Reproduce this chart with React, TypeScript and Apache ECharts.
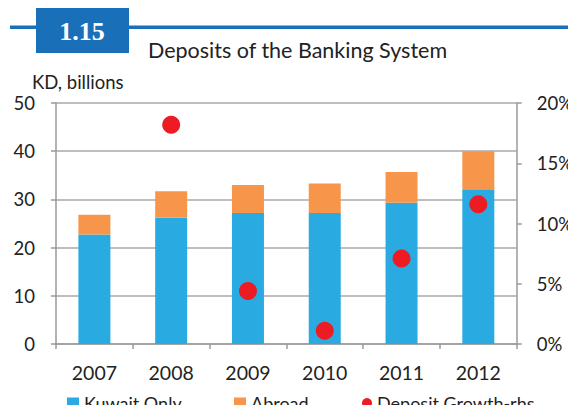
import React, { useEffect, useRef } from "react";
import * as echarts from "echarts";

const years = ["2007", "2008", "2009", "2010", "2011", "2012"];
const kuwaitOnly = [22.7, 26.2, 27.2, 27.2, 29.3, 32.1];
const abroad = [4.1, 5.5, 5.8, 6.1, 6.4, 7.9];
const depositGrowth: (number | null)[] = [null, 18.2, 4.4, 1.1, 7.1, 11.6];
const leftTicks = [0, 10, 20, 30, 40, 50];
const rightTicks = [0, 5, 10, 15, 20];

const FONT = "Lato, 'Open Sans', sans-serif";

export default function App() {
  const ref = useRef<HTMLDivElement>(null);
  useEffect(() => {
    if (!ref.current) return;
    const chart = echarts.init(ref.current, undefined, { renderer: "svg" });
    const axisGray = "#9a9a9a";
    const legendText = { fontSize: 18, lineHeight: 18, color: "#222", fontFamily: FONT };
    chart.setOption({
      animation: false,
      backgroundColor: "#ffffff",
      textStyle: { fontFamily: FONT },
      grid: { left: 56, right: 51, top: 103, bottom: 69, containLabel: false },
      graphic: [
        { type: "rect", shape: { x: 10, y: 25.5, width: 566, height: 3.5 }, style: { fill: "#1a70b8" } },
        { type: "rect", shape: { x: 36, y: 6, width: 93, height: 47 }, style: { fill: "#1a70b8" } },
        {
          type: "text", x: 82, y: 31,
          style: { text: "1.15", fill: "#ffffff", font: "bold 26px 'Liberation Serif', 'DejaVu Serif', serif", textAlign: "center", textVerticalAlign: "middle" },
        },
        {
          type: "text", x: 148, y: 50,
          style: { text: "Deposits of the Banking System", fill: "#222", font: `21.5px ${FONT}`, textAlign: "left", textVerticalAlign: "middle" },
        },
        {
          type: "text", x: 32, y: 82,
          style: { text: "KD, billions", fill: "#222", font: `18.5px ${FONT}`, textAlign: "left", textVerticalAlign: "middle" },
        },
      ],
      legend: [
        {
          left: 67, top: 394, padding: 0, itemWidth: 12, itemHeight: 11, icon: "rect", itemGap: 0,
          textStyle: legendText, data: ["Kuwait Only"], selectedMode: false,
        },
        {
          left: 234, top: 394, padding: 0, itemWidth: 12, itemHeight: 11, icon: "rect", itemGap: 0,
          textStyle: legendText, data: ["Abroad"], selectedMode: false,
        },
        {
          left: 362, top: 394, padding: 0, itemWidth: 10, itemHeight: 10, icon: "circle", itemGap: 0,
          textStyle: legendText, data: ["Deposit Growth-rhs"], selectedMode: false,
        },
      ],
      xAxis: {
        type: "category",
        data: years,
        axisLine: { lineStyle: { color: axisGray, width: 1.5 } },
        axisTick: { show: true, length: 5, lineStyle: { color: axisGray, width: 1.5 } },
        axisLabel: { fontSize: 19.5, color: "#222", margin: 18, fontFamily: FONT },
      },
      yAxis: [
        {
          type: "value", min: 0, max: 50, interval: 10,
          axisLine: { show: true, lineStyle: { color: axisGray, width: 1.5 } },
          axisTick: { show: true, length: 5, lineStyle: { color: axisGray, width: 1.5 } },
          axisLabel: {
            fontSize: 18.5, color: "#222", margin: 21, fontFamily: FONT,
            formatter: (v: number) => (leftTicks.includes(v) ? String(v) : ""),
          },
          splitLine: { show: true, lineStyle: { color: "#a8a8a8", width: 1.5 } },
        },
        {
          type: "value", min: 0, max: 20, interval: 5, position: "right",
          axisLine: { show: true, lineStyle: { color: axisGray, width: 1.5 } },
          axisTick: { show: true, length: 5, lineStyle: { color: axisGray, width: 1.5 } },
          axisLabel: {
            fontSize: 18.5, color: "#222", margin: 20, fontFamily: FONT,
            formatter: (v: number) => (rightTicks.includes(v) ? `${v}%` : ""),
          },
          splitLine: { show: false },
        },
      ],
      series: [
        {
          name: "Kuwait Only", type: "bar", stack: "dep", data: kuwaitOnly, barWidth: 32,
          itemStyle: { color: "#29abe2" },
        },
        {
          name: "Abroad", type: "bar", stack: "dep", data: abroad, barWidth: 32,
          itemStyle: { color: "#f7964a" },
        },
        {
          name: "Deposit Growth-rhs", type: "scatter", yAxisIndex: 1, data: depositGrowth,
          symbol: "circle", symbolSize: 18, itemStyle: { color: "#ed1c24", opacity: 1 }, z: 5,
        },
      ],
    });
    return () => chart.dispose();
  }, []);
  return <div ref={ref} style={{ width: 576, height: 413, margin: -8 }} />;
}
